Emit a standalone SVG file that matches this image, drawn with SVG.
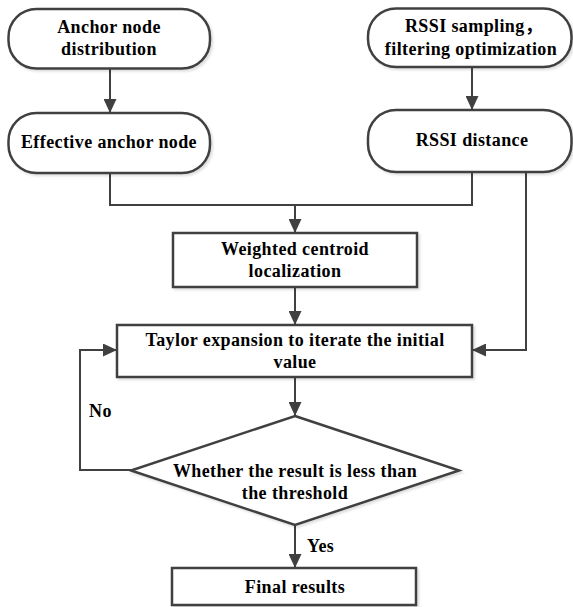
<svg xmlns="http://www.w3.org/2000/svg" width="573" height="607" viewBox="0 0 573 607">
<style>
.shape{fill:#fff;stroke:#404040;stroke-width:2.5;filter:url(#sh)}
.conn{fill:none;stroke:#404040;stroke-width:2}
.t{text-anchor:middle}
</style>
<defs>
<filter id="sh" x="-10%" y="-10%" width="120%" height="130%">
<feDropShadow dx="2" dy="2" stdDeviation="1" flood-color="#000" flood-opacity="0.12"/>
</filter>
<marker id="ah" markerWidth="14" markerHeight="13" refX="14" refY="6.5" orient="auto" markerUnits="userSpaceOnUse">
<path d="M0,0 L14,6.5 L0,13 Z" fill="#404040"/>
</marker>
</defs>
<g font-family="Liberation Serif, serif" font-weight="bold" font-size="18" letter-spacing="0.4" fill="#000">
<g id="connectors">
<path class="conn" d="M110,69 V113" marker-end="url(#ah)"/>
<path class="conn" d="M472,67 V110" marker-end="url(#ah)"/>
<path class="conn" d="M110,173 V205 H472 V172"/>
<path class="conn" d="M295,205 V233" marker-end="url(#ah)"/>
<path class="conn" d="M295,287 V325" marker-end="url(#ah)"/>
<path class="conn" d="M526,172 V350 H472" marker-end="url(#ah)"/>
<path class="conn" d="M295,377 V416" marker-end="url(#ah)"/>
<path class="conn" d="M131,470 H80 V350 H117" marker-end="url(#ah)"/>
<path class="conn" d="M295,525 V568" marker-end="url(#ah)"/>
<text x="89" y="417">No</text>
<text x="307" y="552">Yes</text>
</g>
<g id="anchor-distribution">
<rect class="shape" x="8.5" y="9" width="201.5" height="59.5" rx="28" ry="28"/>
<text class="t" x="109" y="33">Anchor node</text>
<text class="t" x="109" y="55">distribution</text>
</g>
<g id="effective-anchor">
<rect class="shape" x="8.5" y="113" width="201.5" height="60" rx="28" ry="28"/>
<text class="t" x="109" y="148">Effective anchor node</text>
</g>
<g id="rssi-sampling">
<rect class="shape" x="368" y="8.5" width="203.5" height="58.5" rx="28" ry="28"/>
<text class="t" x="474" y="32">RSSI sampling<tspan font-family="Noto Sans CJK SC, sans-serif">，</tspan></text>
<text class="t" x="471" y="55">filtering optimization</text>
</g>
<g id="rssi-distance">
<rect class="shape" x="368" y="110" width="203.5" height="62" rx="28" ry="28"/>
<text class="t" x="472" y="146">RSSI distance</text>
</g>
<g id="weighted-centroid">
<rect class="shape" x="173" y="233" width="244" height="54"/>
<text class="t" x="295" y="255">Weighted centroid</text>
<text class="t" x="295" y="277">localization</text>
</g>
<g id="taylor">
<rect class="shape" x="117" y="325" width="355" height="52"/>
<text class="t" x="295" y="346">Taylor expansion to iterate the initial</text>
<text class="t" x="295" y="368">value</text>
</g>
<g id="decision">
<polygon class="shape" points="295,416 459,470.5 295,525 131,470.5"/>
<text class="t" x="295" y="477">Whether the result is less than</text>
<text class="t" x="295" y="499">the threshold</text>
</g>
<g id="final">
<rect class="shape" x="172" y="568" width="244" height="37"/>
<text class="t" x="295" y="593">Final results</text>
</g>
</g>
</svg>
